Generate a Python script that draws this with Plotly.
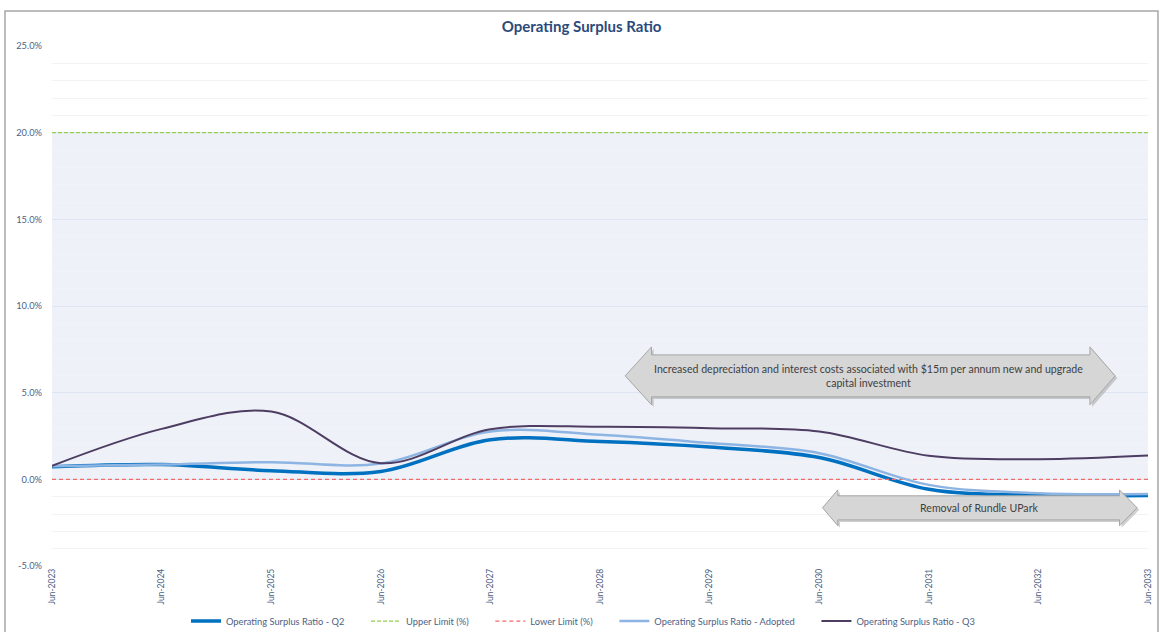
import plotly.graph_objects as go

# Financial years shown on the x axis
years = ["Jun-2023", "Jun-2024", "Jun-2025", "Jun-2026", "Jun-2027", "Jun-2028",
         "Jun-2029", "Jun-2030", "Jun-2031", "Jun-2032", "Jun-2033"]

# Operating surplus ratio (%) per scenario
osr_q2 = [0.72, 0.85, 0.50, 0.45, 2.28, 2.18, 1.86, 1.26, -0.57, -0.91, -0.93]
osr_adopted = [0.75, 0.85, 0.99, 0.91, 2.76, 2.57, 2.09, 1.51, -0.32, -0.80, -0.84]
osr_q3 = [0.78, 2.91, 3.91, 0.93, 2.89, 3.03, 2.95, 2.76, 1.36, 1.16, 1.37]

# Target band limits (%)
upper_limit = [20, 20, 20, 20, 20, 20, 20, 20, 20, 20, 20]
lower_limit = [0, 0, 0, 0, 0, 0, 0, 0, 0, 0, 0]

y_ticks = [-5, 0, 5, 10, 15, 20, 25]

FONT = "Lato"
LABEL_COLOR = "#4D6185"
PAD = "&nbsp;" * 7  # extra spacing between legend entries

xs = list(range(len(years)))

fig = go.Figure()

fig.add_trace(go.Scatter(
    x=xs, y=osr_q2, name="Operating Surplus Ratio - Q2" + PAD, mode="lines",
    line=dict(color="#0070C0", width=3.5, shape="spline", smoothing=1.0)))
fig.add_trace(go.Scatter(
    x=xs, y=upper_limit, name="Upper Limit (%)" + PAD, mode="lines",
    line=dict(color="#92D050", width=1.2, dash="4px,2px")))
fig.add_trace(go.Scatter(
    x=xs, y=lower_limit, name="Lower Limit (%)" + PAD, mode="lines",
    line=dict(color="#F26B6B", width=1.2, dash="4px,3px")))
fig.add_trace(go.Scatter(
    x=xs, y=osr_adopted, name="Operating Surplus Ratio - Adopted" + PAD, mode="lines",
    line=dict(color="#8DB4E2", width=2.5, shape="spline", smoothing=1.0)))
fig.add_trace(go.Scatter(
    x=xs, y=osr_q3, name="Operating Surplus Ratio - Q3", mode="lines",
    line=dict(color="#4E3D63", width=2, shape="spline", smoothing=1.0)))

# Shaded target band between the limits
fig.add_shape(type="rect", xref="x", yref="y", x0=0, x1=10,
              y0=lower_limit[0], y1=upper_limit[0],
              fillcolor="#EEF2F8", line=dict(width=0), layer="below")


def block_arrow(xl, xhl, xhr, xr, y_head_top, y_body_top, y_mid, y_body_bot, y_head_bot):
    return (f"M {xl},{y_mid} L {xhl},{y_head_top} L {xhl},{y_body_top} "
            f"L {xhr},{y_body_top} L {xhr},{y_head_top} L {xr},{y_mid} "
            f"L {xhr},{y_head_bot} L {xhr},{y_body_bot} L {xhl},{y_body_bot} "
            f"L {xhl},{y_head_bot} Z")


arrows = [
    dict(geom=(5.23, 5.47, 9.47, 9.70, 7.64, 7.18, 5.97, 4.76, 4.30),
         text="Increased depreciation and interest costs associated with $15m per annum new and upgrade<br>capital investment",
         tx=7.45, ty=5.97),
    dict(geom=(7.03, 7.17, 9.74, 9.90, -0.61, -0.95, -1.64, -2.34, -2.68),
         text="Removal of Rundle UPark", tx=8.46, ty=-1.64),
]
for a in arrows:
    g = a["geom"]
    # soft drop shadow
    sh = (g[0] + 0.02, g[1] + 0.02, g[2] + 0.02, g[3] + 0.02,
          g[4] - 0.12, g[5] - 0.12, g[6] - 0.12, g[7] - 0.12, g[8] - 0.12)
    fig.add_shape(type="path", xref="x", yref="y", path=block_arrow(*sh),
                  fillcolor="rgba(120,120,120,0.35)", line=dict(width=0))
    fig.add_shape(type="path", xref="x", yref="y", path=block_arrow(*g),
                  fillcolor="#D6D6D6", line=dict(color="#A6A6A6", width=1))
    fig.add_annotation(x=a["tx"], y=a["ty"], xref="x", yref="y", text=a["text"],
                       showarrow=False, font=dict(family=FONT, size=10.6, color="#404040"),
                       align="center")

# Outer chart border
fig.add_shape(type="rect", xref="paper", yref="paper",
              x0=-0.0429, x1=1.0091, y0=-0.2, y1=1.0673,
              line=dict(color="#A6A6A6", width=1.5), fillcolor="rgba(0,0,0,0)")

fig.update_layout(
    width=1161, height=632,
    margin=dict(l=52, r=13, t=46, b=66, autoexpand=False),
    paper_bgcolor="white", plot_bgcolor="white",
    font=dict(family=FONT, color=LABEL_COLOR),
    title=dict(text="<b>Operating Surplus Ratio</b>", xref="container", x=0.501,
               y=1 - 27 / 632, yanchor="middle", xanchor="center",
               font=dict(family=FONT, size=15, color="#2B4A7A")),
    showlegend=True,
    legend=dict(orientation="h", x=0.4845, xanchor="center", y=-0.106, yanchor="middle",
                font=dict(family=FONT, size=9.3, color=LABEL_COLOR),
                bgcolor="rgba(0,0,0,0)", itemwidth=30, tracegroupgap=0),
    xaxis=dict(range=[0, 10], tickmode="array", tickvals=xs, ticktext=years,
               tickangle=-90, showgrid=False, zeroline=False, showline=False,
               automargin=False,
               tickfont=dict(family=FONT, size=8.5, color=LABEL_COLOR), ticks=""),
    yaxis=dict(range=[-5, 25], tickmode="array", tickvals=y_ticks,
               ticktext=[f"{v:.1f}%" for v in y_ticks],
               showgrid=True, gridcolor="#DCE5F1", gridwidth=1,
               zeroline=False, showline=False, ticks="", automargin=False,
               ticklabelstandoff=9,
               tickfont=dict(family=FONT, size=9.3, color=LABEL_COLOR),
               minor=dict(dtick=1, showgrid=True, gridcolor="#F1F3F7", gridwidth=1)),
)

fig.write_html("out.html")
